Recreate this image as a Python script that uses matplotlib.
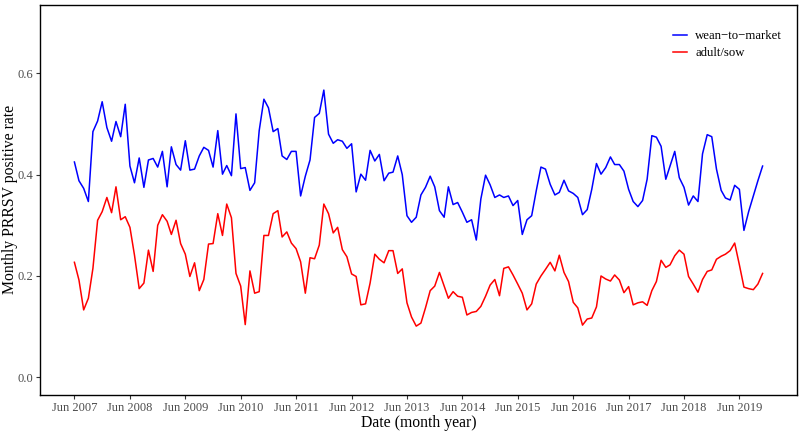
import numpy as np
import pandas as pd
import matplotlib
matplotlib.use("Agg")
import matplotlib.pyplot as plt
import matplotlib.dates as mdates

start_month = "2007-06-01"
series_names = ["wean\u2212to\u2212market", "adult/sow"]

wean_to_market = [
    0.425, 0.388, 0.373, 0.347, 0.485, 0.506, 0.544, 0.493, 0.466, 0.505,
    0.475, 0.539, 0.417, 0.384, 0.433, 0.375, 0.429, 0.432, 0.415, 0.446,
    0.376, 0.455, 0.420, 0.409, 0.467, 0.409, 0.411, 0.437, 0.454, 0.448,
    0.415, 0.487, 0.401, 0.418, 0.398, 0.520, 0.412, 0.414, 0.369, 0.384,
    0.487, 0.549, 0.532, 0.485, 0.491, 0.437, 0.430, 0.446, 0.446, 0.358,
    0.397, 0.429, 0.513, 0.521, 0.567, 0.480, 0.462, 0.469, 0.466, 0.452,
    0.461, 0.366, 0.401, 0.389, 0.448, 0.427, 0.440, 0.388, 0.403, 0.405,
    0.437, 0.400, 0.319, 0.306, 0.316, 0.360, 0.375, 0.397, 0.376, 0.329,
    0.316, 0.376, 0.341, 0.345, 0.326, 0.306, 0.311, 0.271, 0.352, 0.399,
    0.380, 0.355, 0.360, 0.355, 0.358, 0.339, 0.349, 0.282, 0.311, 0.319,
    0.368, 0.415, 0.411, 0.381, 0.360, 0.365, 0.389, 0.368, 0.363, 0.355,
    0.321, 0.331, 0.371, 0.422, 0.401, 0.414, 0.435, 0.420, 0.420, 0.407,
    0.371, 0.347, 0.337, 0.349, 0.391, 0.477, 0.474, 0.456, 0.391, 0.417,
    0.446, 0.394, 0.375, 0.340, 0.358, 0.347, 0.441, 0.479, 0.475, 0.411,
    0.369, 0.354, 0.350, 0.379, 0.371, 0.290, 0.327, 0.358, 0.388, 0.417,
]

adult_sow = [
    0.227, 0.192, 0.133, 0.156, 0.215, 0.310, 0.327, 0.355, 0.325, 0.376,
    0.311, 0.317, 0.296, 0.241, 0.175, 0.186, 0.251, 0.209, 0.300, 0.321,
    0.308, 0.282, 0.310, 0.264, 0.243, 0.199, 0.226, 0.171, 0.193, 0.263,
    0.264, 0.323, 0.280, 0.342, 0.315, 0.205, 0.180, 0.104, 0.210, 0.166,
    0.169, 0.280, 0.280, 0.323, 0.329, 0.277, 0.287, 0.265, 0.254, 0.228,
    0.166, 0.236, 0.234, 0.261, 0.342, 0.323, 0.285, 0.296, 0.252, 0.238,
    0.204, 0.199, 0.143, 0.145, 0.186, 0.243, 0.233, 0.226, 0.250, 0.250,
    0.205, 0.214, 0.147, 0.119, 0.101, 0.107, 0.137, 0.171, 0.180, 0.207,
    0.180, 0.156, 0.169, 0.160, 0.158, 0.123, 0.128, 0.130, 0.140, 0.160,
    0.182, 0.193, 0.161, 0.215, 0.218, 0.202, 0.184, 0.166, 0.133, 0.145,
    0.184, 0.200, 0.213, 0.227, 0.210, 0.241, 0.207, 0.189, 0.148, 0.137,
    0.103, 0.115, 0.117, 0.139, 0.200, 0.194, 0.190, 0.202, 0.192, 0.167,
    0.179, 0.143, 0.147, 0.149, 0.142, 0.171, 0.189, 0.231, 0.217, 0.222,
    0.240, 0.251, 0.243, 0.199, 0.184, 0.168, 0.193, 0.209, 0.212, 0.233,
    0.239, 0.243, 0.250, 0.265, 0.222, 0.178, 0.175, 0.173, 0.184, 0.205,
]

tick_years = list(range(2007, 2020))
tick_labels = [f"Jun {y}" for y in tick_years]
y_ticks = [0.0, 0.2, 0.4, 0.6]

dates = pd.date_range(start_month, periods=len(wean_to_market), freq="MS")
xnum = mdates.date2num(dates)

fig = plt.figure(figsize=(8, 4.32), dpi=100)
ax = fig.add_axes([40/800, 1 - 395/432, 757/800, 390/432])

serif = ["Liberation Serif", "DejaVu Serif"]

ax.plot(xnum, wean_to_market, color="#0000FF", lw=1.1, label=series_names[0])
ax.plot(xnum, adult_sow, color="#FF0000", lw=1.1, label=series_names[1])

span = xnum[-1] - xnum[0]
ax.set_xlim(xnum[0] - 0.05 * span, xnum[-1] + 0.05 * span)
ax.set_ylim(-0.035, 0.735)

tick_pos = mdates.date2num(pd.to_datetime([f"{y}-06-01" for y in tick_years]))
ax.set_xticks(tick_pos)
ax.set_xticklabels(tick_labels, family=serif, fontsize=9, color="#4D4D4D")
ax.set_yticks(y_ticks)
ax.set_yticklabels([f"{v:.1f}" for v in y_ticks], family=serif, fontsize=9, color="#4D4D4D")
ax.tick_params(axis="both", direction="out", length=3, width=0.8, color="#333333", pad=2)

for s in ax.spines.values():
    s.set_color("black")
    s.set_linewidth(1.0)

ax.set_xlabel("Date (month year)", family=serif, fontsize=11.3, labelpad=1)
fig.text(10/800, 1 - 199/432, "Monthly PRRSV positive rate", family=serif,
         fontsize=11.3, rotation=90, ha="center", va="center")

leg = ax.legend(loc="upper left", bbox_to_anchor=(673/800, 1 - 30/432),
                bbox_transform=fig.transFigure, frameon=False,
                prop={"family": serif, "size": 9.2}, handlelength=1.1,
                handletextpad=0.65, labelspacing=0.4, borderpad=0,
                borderaxespad=0)

fig.savefig("out.png", dpi=100)
